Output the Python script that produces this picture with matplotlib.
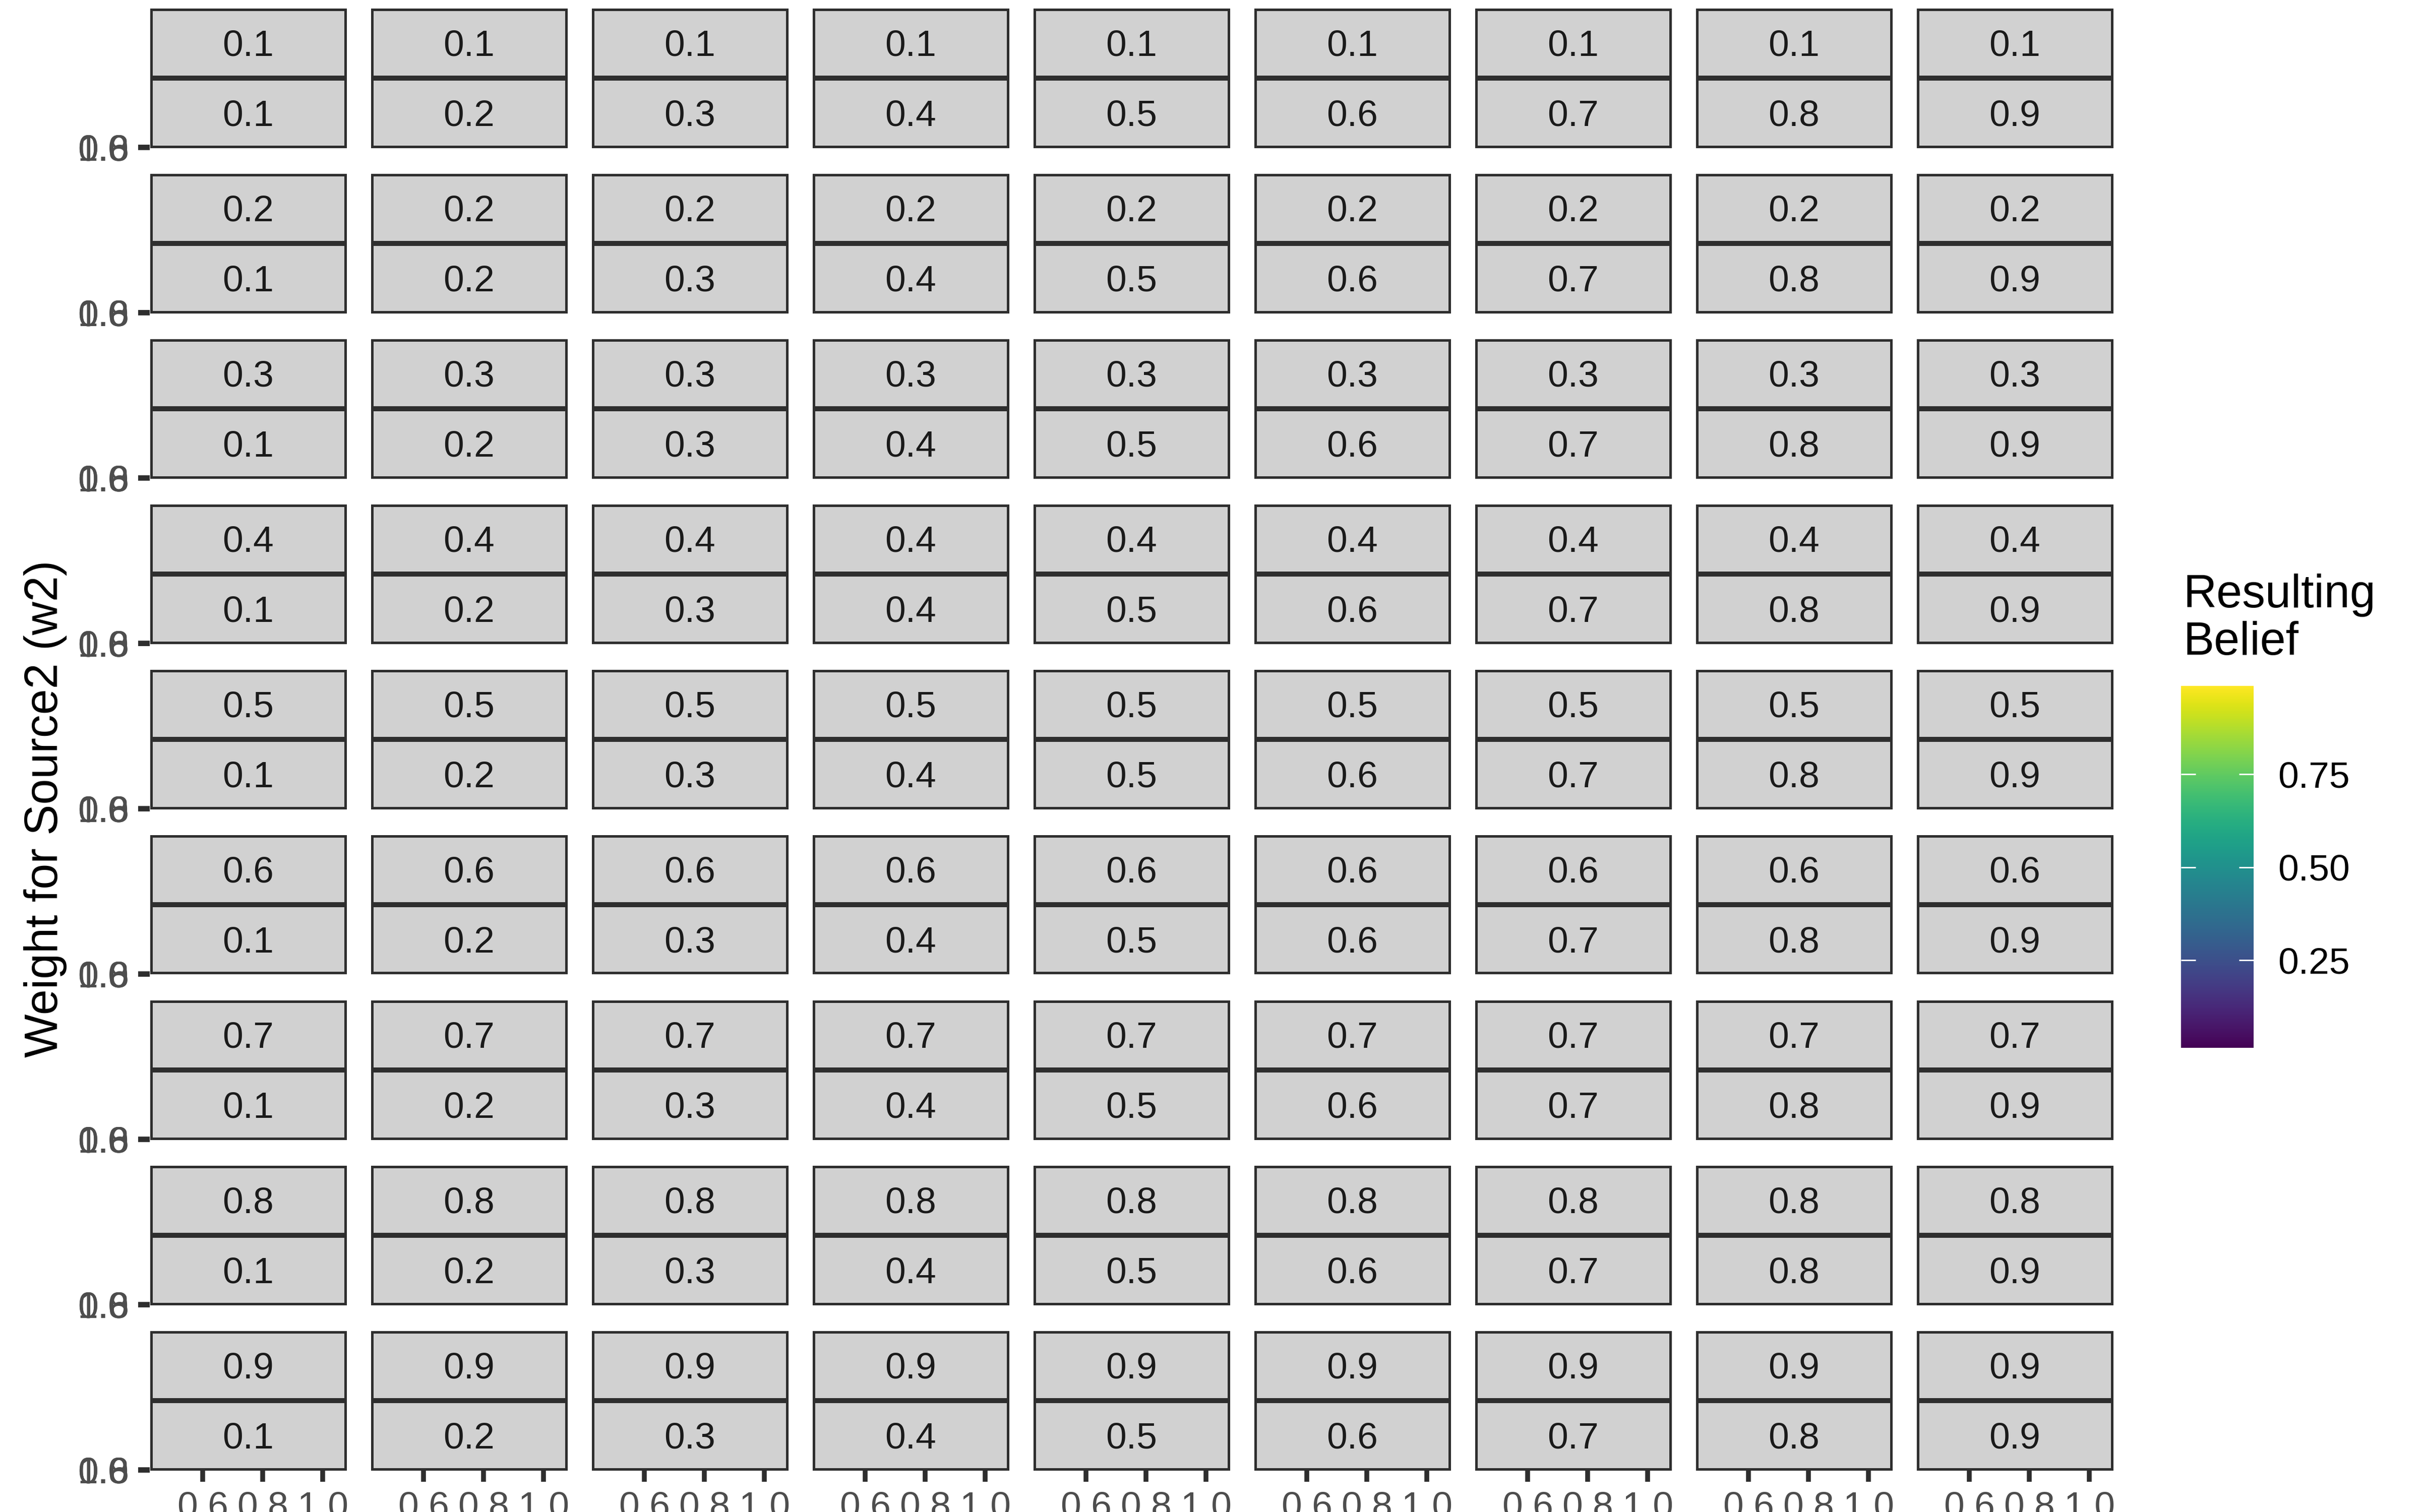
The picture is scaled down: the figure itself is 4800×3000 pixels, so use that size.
import matplotlib
matplotlib.use("Agg")
import matplotlib.pyplot as plt
from matplotlib.patches import Rectangle
from matplotlib.colors import Normalize
import matplotlib.cm as cm

plt.rcParams['font.family'] = ['Liberation Sans', 'DejaVu Sans']

# facet levels: rows are w2, columns are w1
w2_levels = [0.1, 0.2, 0.3, 0.4, 0.5, 0.6, 0.7, 0.8, 0.9]
w1_levels = [0.1, 0.2, 0.3, 0.4, 0.5, 0.6, 0.7, 0.8, 0.9]

x_ticks = [0.6, 0.8, 1.0]
x_tick_labels = ["0.6", "0.8", "1.0"]
x_limits = [0.424, 1.079]
y_ticks = [0.6, 0.8, 1.0]
y_tick_labels = ["0.6", "0.8", "1.0"]
y_limits = [0.55, 1.05]

belief_limits = [0.014, 0.988]
belief_ticks = [0.25, 0.50, 0.75]
belief_tick_labels = ["0.25", "0.50", "0.75"]

W, H = 4800, 3000
PX = 600 / 72  # pixels per point


def fx(px):
    return px / W


def fy(py):
    return 1 - py / H


fig = plt.figure(figsize=(8, 5), dpi=600)

panel_left = 297
panel_w = 390
col_step = 438
row_top = 16
row_step = 328
strip_h = 138.5
border_lw = 0.6
half = border_lw * PX / 2

strip_fill = '#D1D1D1'
dark = '#2E2E2E'

for i, w2 in enumerate(w2_levels):
    top = row_top + row_step * i
    bottom = top + 2 * strip_h
    for j, w1 in enumerate(w1_levels):
        left = panel_left + col_step * j

        # two stacked strips: w2 on top, w1 below
        for k, val in enumerate([w2, w1]):
            s_top = top + k * strip_h
            s_bot = s_top + strip_h
            rect = Rectangle((fx(left + half), fy(s_bot - half)),
                             (panel_w - 2 * half) / W,
                             (strip_h - 2 * half) / H,
                             transform=fig.transFigure, facecolor=strip_fill,
                             edgecolor=dark, linewidth=border_lw, zorder=2)
            fig.patches.append(rect)
            fig.text(fx(left + panel_w / 2), fy((s_top + s_bot) / 2 + 7), f"{val:.1f}",
                     ha='center', va='center', fontsize=8.8, color='#1A1A1A',
                     zorder=3)

        # the panel itself collapses to a line under the strips
        ax = fig.add_axes([fx(left), fy(bottom), panel_w / W, 1 / H])
        ax.set_xlim(x_limits)
        ax.set_ylim(y_limits)
        ax.patch.set_visible(False)
        for sp in ax.spines.values():
            sp.set_visible(False)
        ax.tick_params(length=2.75, width=1.15, color=dark, labelsize=8.8,
                       labelcolor='#4D4D4D', pad=2.2)
        if i == len(w2_levels) - 1:
            ax.set_xticks(x_ticks, x_tick_labels)
        else:
            ax.set_xticks([])
        if j == 0:
            ax.set_yticks(y_ticks, y_tick_labels)
        else:
            ax.set_yticks([])

fig.text(fx(90), fy(1605), "Weight for Source2 (w2)", rotation=90,
         ha='center', va='center', fontsize=11)

# colour bar legend
cax = fig.add_axes([fx(4326), fy(2079), 144 / W, 718 / H])
norm = Normalize(*belief_limits)
cb = fig.colorbar(cm.ScalarMappable(norm=norm, cmap='viridis'), cax=cax,
                  ticks=belief_ticks)
cb.outline.set_visible(False)
cb.set_ticklabels(belief_tick_labels)
cax.tick_params(axis='y', direction='in', length=3.5, width=0.35, color='white',
                left=True, right=True, labelsize=8.8, pad=5.8, labelcolor='black')

fig.text(fx(4330), fy(1138), "Resulting\nBelief", ha='left', va='top',
         fontsize=11, linespacing=1.12)

fig.savefig("out.png", dpi=600)
